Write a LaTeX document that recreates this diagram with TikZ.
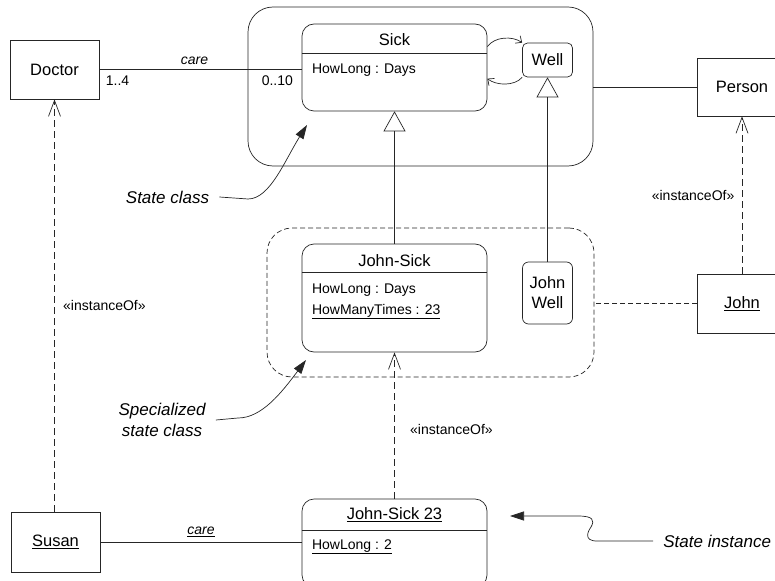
\documentclass[tikz,border=0pt]{standalone}
\usepackage{fontspec}
\setmainfont{Liberation Sans}
\usetikzlibrary{arrows.meta,positioning}

\newcommand\titlesize{\fontsize{16.5}{20}\selectfont}
\newcommand\attrsize{\fontsize{14}{17}\selectfont}
\newcommand\notesize{\fontsize{17}{21}\selectfont\itshape}

\tikzset{
  cls/.style={draw, minimum width=89pt, minimum height=59pt, inner sep=0pt, font=\titlesize},
  statebox/.style={draw, rounded corners=12pt, inner sep=0pt, font=\titlesize},
  attr/.style={anchor=west, inner sep=0pt, font=\attrsize},
  lbl/.style={font=\attrsize},
  inst/.style={dash pattern=on 7pt off 4pt, -{Straight Barb[length=16pt,width=12pt]}},
  gen/.style={-{Triangle[open,length=20pt,width=22pt]}},
  note/.style={inner xsep=10pt, inner ysep=2pt, font=\notesize, align=center},
  pointer/.style={-{Triangle[length=14pt,width=9pt]}},
}

\begin{document}
\begin{tikzpicture}[x=1pt,y=-1pt,line width=0.7pt,draw=black!85]
\useasboundingbox (0,0) rectangle (775,580);

% state class containers
\node[statebox, rounded corners=25pt, minimum width=345pt, minimum height=159pt] (sickcls) at (420.5,86.5) {};
\node[statebox, rounded corners=25pt, dash pattern=on 5pt off 3pt, minimum width=327pt, minimum height=149pt] (jsickcls) at (430.5,302.5) {};

% plain classes and objects
\node[cls] (doctor) at (54.5,69.5) {Doctor};
\node[cls, minimum height=58pt] (person) at (742,87) {Person};
\node[cls] (john) at (742,303.5) {\underline{John}};
\node[cls, minimum height=60pt] (susan) at (55.5,542) {\underline{Susan}};

% small states
\node[statebox, rounded corners=5pt, minimum width=50pt, minimum height=34pt] (well) at (547.5,60) {Well};
\node[statebox, rounded corners=6pt, minimum width=50pt, minimum height=62pt, align=center] (jwell) at (547.5,293) {John\\Well};

% Sick
\node[statebox, minimum width=185pt, minimum height=87pt] (sick) at (394.5,67.5) {};
\node[font=\titlesize] (sicktitle) at ([yshift=-16pt]sick.north) {Sick};
\draw ([yshift=-30pt]sick.north west) -- ([yshift=-30pt]sick.north east);
\node[attr] (sickattr) at ([xshift=10pt,yshift=-46pt]sick.north west) {HowLong : Days};

% John-Sick
\node[statebox, minimum width=185pt, minimum height=108pt] (jsick) at (394.5,298) {};
\node[font=\titlesize] (jsicktitle) at ([yshift=-17pt]jsick.north) {John-Sick};
\draw ([yshift=-29pt]jsick.north west) -- ([yshift=-29pt]jsick.north east);
\node[attr] (jsickattra) at ([xshift=10pt,yshift=-46pt]jsick.north west) {HowLong : Days};
\node[attr] (jsickattrb) at ([xshift=10pt,yshift=-68pt]jsick.north west) {\underline{HowManyTimes : 23}};

% John-Sick 23
\node[statebox, minimum width=185pt, minimum height=88pt] (jsick23) at (394.5,543) {};
\node[font=\titlesize] (jsick23title) at ([yshift=-16pt]jsick23.north) {\underline{John-Sick 23}};
\draw ([yshift=-32pt]jsick23.north west) -- ([yshift=-32pt]jsick23.north east);
\node[attr] (jsick23attr) at ([xshift=10pt,yshift=-48pt]jsick23.north west) {\underline{HowLong : 2}};

% transitions
\draw[-{Straight Barb[length=5pt,width=9pt]}] ([yshift=-23pt]sick.north east) .. controls +(7,-10) and +(-10,-7) .. (well.north west);
\draw[-{Straight Barb[length=5pt,width=9pt]}] (well.south west) .. controls +(-8,9) and +(9,7) .. ([yshift=-55pt]sick.north east);

% generalizations
\draw[gen] (jsick.north) -- (sick.south);
\draw[gen] (jwell.north) -- (well.south);

% associations
\draw (doctor.east) -- node[pos=0.47,above=1pt,lbl]{\itshape care}
  node[pos=0.09,below=3pt,lbl]{1..4} node[pos=0.88,below=3pt,lbl]{0..10} (doctor.east -| sick.west);
\draw (person.west) -- (person.west -| sickcls.east);
\draw[dash pattern=on 5pt off 3pt] (john.west) -- (john.west -| jsickcls.east);
\draw (susan.east) -- node[above=2pt,lbl]{\itshape\underline{care}} (susan.east -| jsick23.west);

% instanceOf
\draw[inst] (susan.north -| doctor.south) -- node[right=5pt,lbl]{«instanceOf»} (doctor.south);
\draw[inst] (john.north) -- node[left=4pt,lbl]{«instanceOf»} (person.south);
\draw[inst] (jsick23.north) -- node[pos=0.47,right=12pt,lbl]{«instanceOf»} (jsick.south);

% notes
\node[note] (stcls) at (167.5,197) {State class};
\node[note] (specls) at (162,420) {Specialized\\state class};
\node[note, anchor=west] (stinst) at (653,541) {State instance};
\coordinate (stclstip) at (307,125);
\coordinate (speclstip) at (306,360);
\coordinate (stinsttip) at (510,516);
\draw[pointer] (stcls.east) -- (248,199) .. controls (270,199) and (285,160) .. (stclstip);
\draw[pointer] (specls.east) -- (238,418) .. controls (262,418) and (282,392) .. (speclstip);
\draw[pointer] (stinst.west) -- (597,541) .. controls (583,541) and (588,531) .. (591,527)
  .. controls (595,520) and (593,516) .. (578,516) -- (stinsttip);
\end{tikzpicture}
\end{document}
